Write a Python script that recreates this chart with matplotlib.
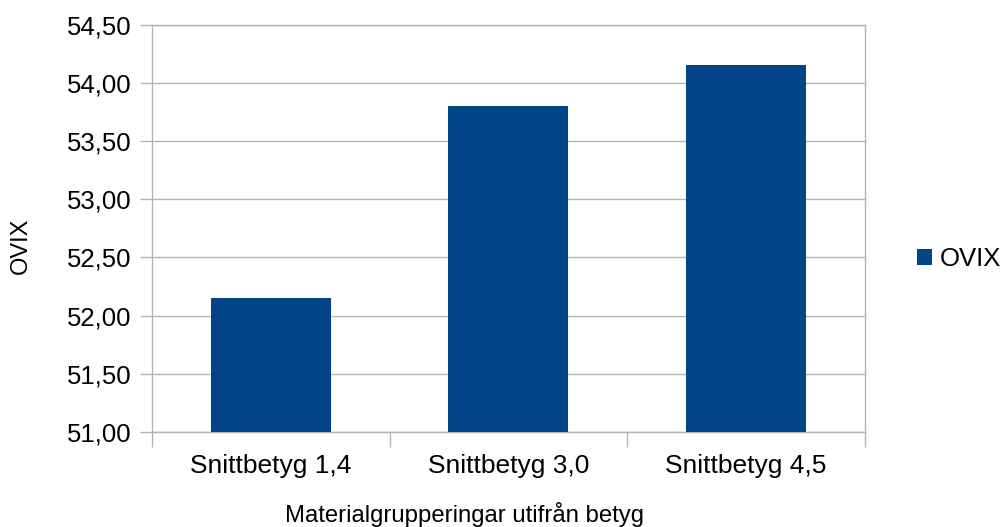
import matplotlib
matplotlib.use("Agg")
import matplotlib.pyplot as plt
from matplotlib.ticker import FuncFormatter, MultipleLocator

# OVIX per materialgrupp
kategorier = ["Snittbetyg 1,4", "Snittbetyg 3,0", "Snittbetyg 4,5"]
ovix = [52.15, 53.80, 54.15]

plt.rcParams['font.family'] = ['Liberation Sans', 'DejaVu Sans']

fig = plt.figure(figsize=(10.05, 5.27), dpi=100)
ax = fig.add_axes([0.1512, 0.1803, 0.7095, 0.7728])

x = range(len(kategorier))
ax.bar(x, ovix, width=0.505, color="#004586", zorder=3, label="OVIX")

ax.set_xlim(-0.5, len(kategorier) - 0.5)
ax.set_ylim(51.0, 54.5)
ax.yaxis.set_major_locator(MultipleLocator(0.5))
ax.yaxis.set_major_formatter(FuncFormatter(lambda v, p: f"{v:.2f}".replace(".", ",")))

# kategorietiketter i mitten, streck vid gränserna
ax.set_xticks([i - 0.5 for i in range(len(kategorier) + 1)])
ax.set_xticklabels([])
ax.set_xticks(list(x), minor=True)
ax.set_xticklabels(kategorier, minor=True)
ax.tick_params(axis="x", which="minor", length=0, pad=16, labelsize=19)
ax.tick_params(axis="x", which="major", length=11, width=1, color="#b3b3b3")
ax.tick_params(axis="y", length=9, width=1, color="#b3b3b3", labelsize=18.5, pad=5.6)

ax.grid(axis="y", color="#b3b3b3", linewidth=1, zorder=0)
for s in ax.spines.values():
    s.set_color("#b3b3b3")
    s.set_linewidth(1)

ax.set_ylabel("OVIX", fontsize=17)
ax.yaxis.set_label_coords(-0.168, 0.457)
ax.set_xlabel("Materialgrupperingar utifrån betyg", fontsize=17.2)
ax.xaxis.set_label_coords(0.439, -0.172)

ax.legend(loc="center left", bbox_to_anchor=(1.073, 0.425), frameon=False,
          fontsize=18.5, handlelength=0.58, handleheight=0.58, handletextpad=0.31,
          borderaxespad=0, borderpad=0)

fig.savefig("out.png", dpi=100)
